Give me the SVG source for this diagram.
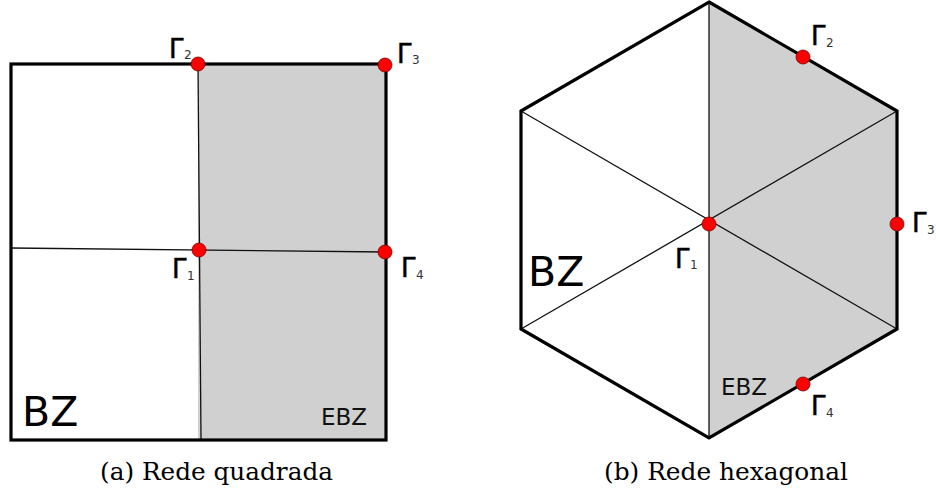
<svg xmlns="http://www.w3.org/2000/svg" width="936" height="495" viewBox="0 0 936 495">
<style>
.fill{fill:#d0d0d0;stroke:none}
.thin{stroke:#111;stroke-width:1.3;fill:none}
.thick{stroke:#000;stroke-width:3.2;fill:none;stroke-linejoin:miter}
.pt{fill:#f00;stroke:#7a0000;stroke-width:0.8}
.g{font-family:"DejaVu Sans",sans-serif;font-size:26px;fill:#000;stroke:#000;stroke-width:0.5}
.sub{font-family:"DejaVu Sans",sans-serif;font-size:12px;fill:#333}
.bz{font-family:"DejaVu Sans",sans-serif;font-size:41px;fill:#000}
.ebz{font-family:"DejaVu Sans",sans-serif;font-size:23px;fill:#111}
.cap{font-family:"DejaVu Serif",serif;font-size:24px;fill:#000}
</style>
<g id="square">
<rect class="fill" x="198" y="64" width="188" height="376"/>
<g id="connectors-a">
<line class="thin" x1="11" y1="248" x2="386" y2="252"/>
<line class="thin" x1="198" y1="64" x2="201" y2="440"/>
</g>
<rect class="thick" x="11" y="64" width="375" height="376"/>
<g id="a-G2"><circle class="pt" cx="198" cy="64" r="7"/><text class="g" x="169" y="58">Γ</text><text class="sub" x="184" y="59">2</text></g>
<g id="a-G3"><circle class="pt" cx="385" cy="65" r="7"/><text class="g" x="397" y="63">Γ</text><text class="sub" x="412" y="64">3</text></g>
<g id="a-G1"><circle class="pt" cx="199" cy="250" r="7"/><text class="g" x="172" y="278">Γ</text><text class="sub" x="187" y="280">1</text></g>
<g id="a-G4"><circle class="pt" cx="385" cy="252" r="7"/><text class="g" x="401" y="277">Γ</text><text class="sub" x="416" y="279">4</text></g>
<text class="bz" x="22" y="426">BZ</text>
<text class="ebz" x="321" y="425">EBZ</text>
<text class="cap" x="100" y="480" textLength="233" lengthAdjust="spacingAndGlyphs">(a) Rede quadrada</text>
</g>
<g id="hexagon">
<polygon class="fill" points="709,2 897,111 897,329 709,438"/>
<g id="connectors-b">
<line class="thin" x1="709" y1="2" x2="709" y2="438"/>
<line class="thin" x1="521" y1="111" x2="897" y2="329"/>
<line class="thin" x1="521" y1="329" x2="897" y2="111"/>
</g>
<polygon class="thick" points="709,2 897,111 897,329 709,438 521,329 521,111"/>
<g id="b-G1"><circle class="pt" cx="709" cy="224" r="7"/><text class="g" x="675" y="268">Γ</text><text class="sub" x="690" y="269">1</text></g>
<g id="b-G2"><circle class="pt" cx="803" cy="57" r="7"/><text class="g" x="811" y="45">Γ</text><text class="sub" x="826" y="47">2</text></g>
<g id="b-G3"><circle class="pt" cx="897" cy="224" r="7"/><text class="g" x="912" y="232">Γ</text><text class="sub" x="927" y="234">3</text></g>
<g id="b-G4"><circle class="pt" cx="803" cy="384" r="7"/><text class="g" x="811" y="415">Γ</text><text class="sub" x="826" y="417">4</text></g>
<text class="bz" x="528" y="286">BZ</text>
<text class="ebz" x="721" y="395">EBZ</text>
<text class="cap" x="604" y="480" textLength="244" lengthAdjust="spacingAndGlyphs">(b) Rede hexagonal</text>
</g>
</svg>
